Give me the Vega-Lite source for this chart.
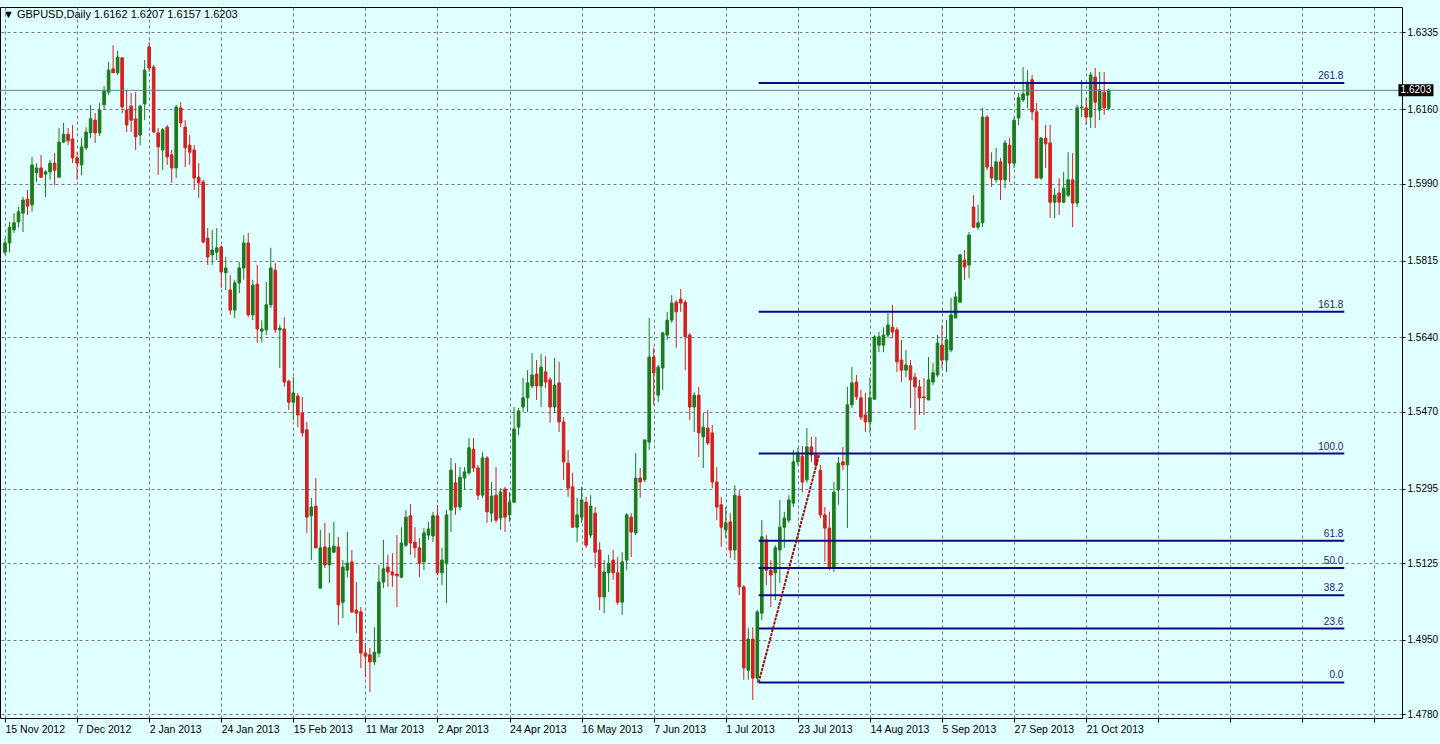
{
"$schema": "https://vega.github.io/schema/vega-lite/v6.json",
"width": 1402, "height": 711,
"autosize": {"type": "none"},
"padding": {"left": 0, "top": 7, "right": 38, "bottom": 26},
"background": "#E0FFFF",
"title": {"text": "▼  GBPUSD,Daily  1.6162 1.6207 1.6157 1.6203", "anchor": "start", "frame": "group", "orient": "top", "offset": -22, "baseline": "alphabetic", "font": "Liberation Sans", "fontSize": 11, "fontWeight": "normal", "color": "#000000", "dx": 3},
"config": {"view": {"stroke": "#000000", "strokeWidth": 1}},
"datasets": {
"candles": [
{"i":0,"o":1.5834,"h":1.5866,"l":1.5828,"c":1.5855},
{"i":1,"o":1.5855,"h":1.5903,"l":1.5834,"c":1.5891},
{"i":2,"o":1.5885,"h":1.5923,"l":1.5878,"c":1.5901},
{"i":3,"o":1.5903,"h":1.5937,"l":1.5891,"c":1.5926},
{"i":4,"o":1.5923,"h":1.5960,"l":1.5880,"c":1.5953},
{"i":5,"o":1.5955,"h":1.5976,"l":1.5919,"c":1.5939},
{"i":6,"o":1.5942,"h":1.6051,"l":1.5926,"c":1.6033},
{"i":7,"o":1.6015,"h":1.6037,"l":1.5994,"c":1.6026},
{"i":8,"o":1.6026,"h":1.6056,"l":1.6003,"c":1.6005},
{"i":9,"o":1.6012,"h":1.6021,"l":1.5960,"c":1.6017},
{"i":10,"o":1.6017,"h":1.6044,"l":1.5999,"c":1.6037},
{"i":11,"o":1.6037,"h":1.6060,"l":1.5987,"c":1.6021},
{"i":12,"o":1.6005,"h":1.6117,"l":1.6005,"c":1.6085},
{"i":13,"o":1.6085,"h":1.6129,"l":1.6083,"c":1.6103},
{"i":14,"o":1.6103,"h":1.6117,"l":1.6078,"c":1.6088},
{"i":15,"o":1.6092,"h":1.6124,"l":1.6037,"c":1.6049},
{"i":16,"o":1.6049,"h":1.6062,"l":1.5999,"c":1.6037},
{"i":17,"o":1.6033,"h":1.6094,"l":1.6010,"c":1.6074},
{"i":18,"o":1.6072,"h":1.6119,"l":1.6067,"c":1.6108},
{"i":19,"o":1.6106,"h":1.6170,"l":1.6094,"c":1.6138},
{"i":20,"o":1.6135,"h":1.6151,"l":1.6083,"c":1.6106},
{"i":21,"o":1.6106,"h":1.6174,"l":1.6099,"c":1.6158},
{"i":22,"o":1.6170,"h":1.6213,"l":1.6158,"c":1.6202},
{"i":23,"o":1.6199,"h":1.6268,"l":1.6192,"c":1.6249},
{"i":24,"o":1.6252,"h":1.6306,"l":1.6243,"c":1.6243},
{"i":25,"o":1.6243,"h":1.6293,"l":1.6238,"c":1.6279},
{"i":26,"o":1.6277,"h":1.6279,"l":1.6151,"c":1.6165},
{"i":27,"o":1.6158,"h":1.6204,"l":1.6108,"c":1.6124},
{"i":28,"o":1.6167,"h":1.6197,"l":1.6108,"c":1.6135},
{"i":29,"o":1.6138,"h":1.6199,"l":1.6067,"c":1.6097},
{"i":30,"o":1.6101,"h":1.6170,"l":1.6078,"c":1.6167},
{"i":31,"o":1.6172,"h":1.6272,"l":1.6135,"c":1.6249},
{"i":32,"o":1.6302,"h":1.6313,"l":1.6245,"c":1.6254},
{"i":33,"o":1.6256,"h":1.6261,"l":1.6106,"c":1.6108},
{"i":34,"o":1.6106,"h":1.6117,"l":1.6010,"c":1.6074},
{"i":35,"o":1.6067,"h":1.6117,"l":1.6021,"c":1.6113},
{"i":36,"o":1.6119,"h":1.6124,"l":1.6033,"c":1.6051},
{"i":37,"o":1.6056,"h":1.6067,"l":1.5992,"c":1.6026},
{"i":38,"o":1.6026,"h":1.6170,"l":1.6003,"c":1.6165},
{"i":39,"o":1.6163,"h":1.6176,"l":1.6119,"c":1.6129},
{"i":40,"o":1.6119,"h":1.6135,"l":1.6028,"c":1.6072},
{"i":41,"o":1.6078,"h":1.6101,"l":1.6033,"c":1.6062},
{"i":42,"o":1.6067,"h":1.6078,"l":1.5976,"c":1.6003},
{"i":43,"o":1.6005,"h":1.6037,"l":1.5958,"c":1.5992},
{"i":44,"o":1.5994,"h":1.5999,"l":1.5855,"c":1.5857},
{"i":45,"o":1.5866,"h":1.5889,"l":1.5805,"c":1.5823},
{"i":46,"o":1.5828,"h":1.5885,"l":1.5805,"c":1.5839},
{"i":47,"o":1.5834,"h":1.5889,"l":1.5816,"c":1.5844},
{"i":48,"o":1.5846,"h":1.5850,"l":1.5752,"c":1.5789},
{"i":49,"o":1.5787,"h":1.5823,"l":1.5748,"c":1.5798},
{"i":50,"o":1.5748,"h":1.5782,"l":1.5691,"c":1.5702},
{"i":51,"o":1.5702,"h":1.5771,"l":1.5684,"c":1.5764},
{"i":52,"o":1.5764,"h":1.5812,"l":1.5741,"c":1.5798},
{"i":53,"o":1.5798,"h":1.5873,"l":1.5771,"c":1.5855},
{"i":54,"o":1.5855,"h":1.5878,"l":1.5686,"c":1.5691},
{"i":55,"o":1.5691,"h":1.5771,"l":1.5679,"c":1.5759},
{"i":56,"o":1.5761,"h":1.5805,"l":1.5627,"c":1.5659},
{"i":57,"o":1.5654,"h":1.5679,"l":1.5629,"c":1.5659},
{"i":58,"o":1.5657,"h":1.5766,"l":1.5645,"c":1.5714},
{"i":59,"o":1.5714,"h":1.5844,"l":1.5707,"c":1.5798},
{"i":60,"o":1.5793,"h":1.5809,"l":1.5650,"c":1.5657},
{"i":61,"o":1.5657,"h":1.5668,"l":1.5570,"c":1.5661},
{"i":62,"o":1.5659,"h":1.5686,"l":1.5527,"c":1.5538},
{"i":63,"o":1.5540,"h":1.5543,"l":1.5474,"c":1.5492},
{"i":64,"o":1.5492,"h":1.5549,"l":1.5451,"c":1.5513},
{"i":65,"o":1.5506,"h":1.5513,"l":1.5435,"c":1.5463},
{"i":66,"o":1.5467,"h":1.5504,"l":1.5413,"c":1.5422},
{"i":67,"o":1.5429,"h":1.5447,"l":1.5194,"c":1.5230},
{"i":68,"o":1.5233,"h":1.5274,"l":1.5132,"c":1.5253},
{"i":69,"o":1.5255,"h":1.5319,"l":1.5160,"c":1.5160},
{"i":70,"o":1.5068,"h":1.5201,"l":1.5068,"c":1.5160},
{"i":71,"o":1.5162,"h":1.5217,"l":1.5114,"c":1.5121},
{"i":72,"o":1.5121,"h":1.5194,"l":1.5080,"c":1.5160},
{"i":73,"o":1.5150,"h":1.5219,"l":1.5148,"c":1.5164},
{"i":74,"o":1.5162,"h":1.5185,"l":1.4984,"c":1.5030},
{"i":75,"o":1.5036,"h":1.5132,"l":1.5000,"c":1.5116},
{"i":76,"o":1.5109,"h":1.5196,"l":1.5093,"c":1.5125},
{"i":77,"o":1.5128,"h":1.5155,"l":1.5011,"c":1.5014},
{"i":78,"o":1.5018,"h":1.5082,"l":1.4966,"c":1.5011},
{"i":79,"o":1.5014,"h":1.5025,"l":1.4886,"c":1.4920},
{"i":80,"o":1.4920,"h":1.4943,"l":1.4865,"c":1.4913},
{"i":81,"o":1.4916,"h":1.4932,"l":1.4831,"c":1.4900},
{"i":82,"o":1.4900,"h":1.4979,"l":1.4893,"c":1.4922},
{"i":83,"o":1.4920,"h":1.5121,"l":1.4911,"c":1.5082},
{"i":84,"o":1.5082,"h":1.5178,"l":1.5068,"c":1.5112},
{"i":85,"o":1.5116,"h":1.5144,"l":1.5071,"c":1.5105},
{"i":86,"o":1.5105,"h":1.5148,"l":1.5071,"c":1.5098},
{"i":87,"o":1.5100,"h":1.5189,"l":1.5025,"c":1.5096},
{"i":88,"o":1.5093,"h":1.5207,"l":1.5091,"c":1.5171},
{"i":89,"o":1.5166,"h":1.5246,"l":1.5162,"c":1.5230},
{"i":90,"o":1.5233,"h":1.5260,"l":1.5144,"c":1.5171},
{"i":91,"o":1.5173,"h":1.5207,"l":1.5137,"c":1.5160},
{"i":92,"o":1.5160,"h":1.5182,"l":1.5093,"c":1.5125},
{"i":93,"o":1.5128,"h":1.5205,"l":1.5109,"c":1.5194},
{"i":94,"o":1.5189,"h":1.5219,"l":1.5178,"c":1.5203},
{"i":95,"o":1.5187,"h":1.5242,"l":1.5173,"c":1.5233},
{"i":96,"o":1.5233,"h":1.5258,"l":1.5098,"c":1.5103},
{"i":97,"o":1.5103,"h":1.5160,"l":1.5075,"c":1.5132},
{"i":98,"o":1.5125,"h":1.5246,"l":1.5034,"c":1.5235},
{"i":99,"o":1.5246,"h":1.5365,"l":1.5196,"c":1.5337},
{"i":100,"o":1.5308,"h":1.5353,"l":1.5235,"c":1.5253},
{"i":101,"o":1.5253,"h":1.5344,"l":1.5246,"c":1.5321},
{"i":102,"o":1.5319,"h":1.5344,"l":1.5292,"c":1.5333},
{"i":103,"o":1.5331,"h":1.5410,"l":1.5326,"c":1.5388},
{"i":104,"o":1.5385,"h":1.5410,"l":1.5333,"c":1.5342},
{"i":105,"o":1.5342,"h":1.5349,"l":1.5269,"c":1.5280},
{"i":106,"o":1.5280,"h":1.5378,"l":1.5274,"c":1.5365},
{"i":107,"o":1.5365,"h":1.5369,"l":1.5217,"c":1.5242},
{"i":108,"o":1.5239,"h":1.5310,"l":1.5219,"c":1.5278},
{"i":109,"o":1.5280,"h":1.5344,"l":1.5217,"c":1.5223},
{"i":110,"o":1.5228,"h":1.5296,"l":1.5201,"c":1.5287},
{"i":111,"o":1.5294,"h":1.5299,"l":1.5196,"c":1.5230},
{"i":112,"o":1.5235,"h":1.5287,"l":1.5219,"c":1.5264},
{"i":113,"o":1.5264,"h":1.5481,"l":1.5262,"c":1.5431},
{"i":114,"o":1.5435,"h":1.5479,"l":1.5417,"c":1.5472},
{"i":115,"o":1.5481,"h":1.5547,"l":1.5470,"c":1.5502},
{"i":116,"o":1.5502,"h":1.5565,"l":1.5470,"c":1.5536},
{"i":117,"o":1.5529,"h":1.5604,"l":1.5524,"c":1.5554},
{"i":118,"o":1.5556,"h":1.5588,"l":1.5497,"c":1.5529},
{"i":119,"o":1.5529,"h":1.5602,"l":1.5481,"c":1.5572},
{"i":120,"o":1.5561,"h":1.5597,"l":1.5524,"c":1.5538},
{"i":121,"o":1.5543,"h":1.5549,"l":1.5445,"c":1.5481},
{"i":122,"o":1.5481,"h":1.5593,"l":1.5467,"c":1.5531},
{"i":123,"o":1.5536,"h":1.5584,"l":1.5424,"c":1.5447},
{"i":124,"o":1.5447,"h":1.5458,"l":1.5315,"c":1.5356},
{"i":125,"o":1.5353,"h":1.5383,"l":1.5276,"c":1.5296},
{"i":126,"o":1.5299,"h":1.5331,"l":1.5205,"c":1.5207},
{"i":127,"o":1.5207,"h":1.5274,"l":1.5173,"c":1.5235},
{"i":128,"o":1.5230,"h":1.5299,"l":1.5217,"c":1.5269},
{"i":129,"o":1.5264,"h":1.5276,"l":1.5160,"c":1.5166},
{"i":130,"o":1.5189,"h":1.5280,"l":1.5182,"c":1.5255},
{"i":131,"o":1.5239,"h":1.5253,"l":1.5114,"c":1.5150},
{"i":132,"o":1.5155,"h":1.5173,"l":1.5018,"c":1.5048},
{"i":133,"o":1.5048,"h":1.5132,"l":1.5011,"c":1.5105},
{"i":134,"o":1.5103,"h":1.5144,"l":1.5059,"c":1.5125},
{"i":135,"o":1.5132,"h":1.5155,"l":1.5087,"c":1.5103},
{"i":136,"o":1.5103,"h":1.5139,"l":1.5030,"c":1.5036},
{"i":137,"o":1.5036,"h":1.5150,"l":1.5007,"c":1.5128},
{"i":138,"o":1.5132,"h":1.5239,"l":1.5109,"c":1.5235},
{"i":139,"o":1.5230,"h":1.5239,"l":1.5139,"c":1.5196},
{"i":140,"o":1.5194,"h":1.5376,"l":1.5189,"c":1.5319},
{"i":141,"o":1.5319,"h":1.5342,"l":1.5274,"c":1.5310},
{"i":142,"o":1.5315,"h":1.5406,"l":1.5310,"c":1.5406},
{"i":143,"o":1.5401,"h":1.5684,"l":1.5383,"c":1.5595},
{"i":144,"o":1.5595,"h":1.5616,"l":1.5486,"c":1.5559},
{"i":145,"o":1.5508,"h":1.5577,"l":1.5492,"c":1.5572},
{"i":146,"o":1.5570,"h":1.5652,"l":1.5520,"c":1.5650},
{"i":147,"o":1.5645,"h":1.5698,"l":1.5634,"c":1.5679},
{"i":148,"o":1.5679,"h":1.5736,"l":1.5673,"c":1.5718},
{"i":149,"o":1.5720,"h":1.5725,"l":1.5616,"c":1.5698},
{"i":150,"o":1.5727,"h":1.5750,"l":1.5698,"c":1.5718},
{"i":151,"o":1.5720,"h":1.5725,"l":1.5565,"c":1.5641},
{"i":152,"o":1.5645,"h":1.5650,"l":1.5451,"c":1.5481},
{"i":153,"o":1.5481,"h":1.5515,"l":1.5424,"c":1.5508},
{"i":154,"o":1.5508,"h":1.5527,"l":1.5367,"c":1.5422},
{"i":155,"o":1.5413,"h":1.5467,"l":1.5342,"c":1.5435},
{"i":156,"o":1.5433,"h":1.5474,"l":1.5394,"c":1.5399},
{"i":157,"o":1.5422,"h":1.5440,"l":1.5296,"c":1.5310},
{"i":158,"o":1.5310,"h":1.5344,"l":1.5223,"c":1.5253},
{"i":159,"o":1.5258,"h":1.5276,"l":1.5162,"c":1.5207},
{"i":160,"o":1.5201,"h":1.5253,"l":1.5182,"c":1.5217},
{"i":161,"o":1.5219,"h":1.5239,"l":1.5137,"c":1.5155},
{"i":162,"o":1.5155,"h":1.5303,"l":1.5132,"c":1.5280},
{"i":163,"o":1.5278,"h":1.5292,"l":1.5052,"c":1.5071},
{"i":164,"o":1.5071,"h":1.5075,"l":1.4859,"c":1.4886},
{"i":165,"o":1.4881,"h":1.4977,"l":1.4859,"c":1.4952},
{"i":166,"o":1.4952,"h":1.4979,"l":1.4813,"c":1.4863},
{"i":167,"o":1.4863,"h":1.5018,"l":1.4852,"c":1.5014},
{"i":168,"o":1.5011,"h":1.5223,"l":1.4995,"c":1.5185},
{"i":169,"o":1.5178,"h":1.5189,"l":1.5075,"c":1.5109},
{"i":170,"o":1.5109,"h":1.5132,"l":1.5025,"c":1.5098},
{"i":171,"o":1.5103,"h":1.5166,"l":1.5041,"c":1.5160},
{"i":172,"o":1.5155,"h":1.5269,"l":1.5080,"c":1.5207},
{"i":173,"o":1.5207,"h":1.5242,"l":1.5160,"c":1.5228},
{"i":174,"o":1.5223,"h":1.5280,"l":1.5217,"c":1.5269},
{"i":175,"o":1.5262,"h":1.5383,"l":1.5253,"c":1.5356},
{"i":176,"o":1.5356,"h":1.5388,"l":1.5349,"c":1.5372},
{"i":177,"o":1.5369,"h":1.5392,"l":1.5287,"c":1.5310},
{"i":178,"o":1.5315,"h":1.5433,"l":1.5308,"c":1.5390},
{"i":179,"o":1.5390,"h":1.5413,"l":1.5356,"c":1.5372},
{"i":180,"o":1.5372,"h":1.5413,"l":1.5344,"c":1.5349},
{"i":181,"o":1.5337,"h":1.5349,"l":1.5228,"c":1.5235},
{"i":182,"o":1.5235,"h":1.5253,"l":1.5128,"c":1.5205},
{"i":183,"o":1.5205,"h":1.5242,"l":1.5109,"c":1.5116},
{"i":184,"o":1.5116,"h":1.5310,"l":1.5105,"c":1.5287},
{"i":185,"o":1.5292,"h":1.5367,"l":1.5258,"c":1.5353},
{"i":186,"o":1.5356,"h":1.5390,"l":1.5337,"c":1.5349},
{"i":187,"o":1.5349,"h":1.5527,"l":1.5205,"c":1.5486},
{"i":188,"o":1.5486,"h":1.5572,"l":1.5479,"c":1.5536},
{"i":189,"o":1.5538,"h":1.5554,"l":1.5497,"c":1.5504},
{"i":190,"o":1.5502,"h":1.5520,"l":1.5451,"c":1.5458},
{"i":191,"o":1.5463,"h":1.5513,"l":1.5424,"c":1.5447},
{"i":192,"o":1.5447,"h":1.5549,"l":1.5422,"c":1.5502},
{"i":193,"o":1.5499,"h":1.5645,"l":1.5497,"c":1.5641},
{"i":194,"o":1.5622,"h":1.5652,"l":1.5606,"c":1.5641},
{"i":195,"o":1.5622,"h":1.5663,"l":1.5606,"c":1.5645},
{"i":196,"o":1.5645,"h":1.5695,"l":1.5638,"c":1.5668},
{"i":197,"o":1.5663,"h":1.5714,"l":1.5638,"c":1.5652},
{"i":198,"o":1.5657,"h":1.5663,"l":1.5561,"c":1.5584},
{"i":199,"o":1.5588,"h":1.5634,"l":1.5538,"c":1.5565},
{"i":200,"o":1.5565,"h":1.5611,"l":1.5549,"c":1.5577},
{"i":201,"o":1.5575,"h":1.5588,"l":1.5479,"c":1.5543},
{"i":202,"o":1.5549,"h":1.5559,"l":1.5429,"c":1.5527},
{"i":203,"o":1.5527,"h":1.5543,"l":1.5463,"c":1.5502},
{"i":204,"o":1.5504,"h":1.5547,"l":1.5463,"c":1.5502},
{"i":205,"o":1.5497,"h":1.5595,"l":1.5497,"c":1.5543},
{"i":206,"o":1.5538,"h":1.5581,"l":1.5531,"c":1.5559},
{"i":207,"o":1.5554,"h":1.5645,"l":1.5549,"c":1.5627},
{"i":208,"o":1.5622,"h":1.5668,"l":1.5570,"c":1.5588},
{"i":209,"o":1.5588,"h":1.5679,"l":1.5561,"c":1.5634},
{"i":210,"o":1.5611,"h":1.5730,"l":1.5606,"c":1.5691},
{"i":211,"o":1.5684,"h":1.5743,"l":1.5684,"c":1.5732},
{"i":212,"o":1.5720,"h":1.5828,"l":1.5718,"c":1.5828},
{"i":213,"o":1.5816,"h":1.5839,"l":1.5771,"c":1.5800},
{"i":214,"o":1.5805,"h":1.5880,"l":1.5775,"c":1.5873},
{"i":215,"o":1.5937,"h":1.5964,"l":1.5889,"c":1.5891},
{"i":216,"o":1.5891,"h":1.5942,"l":1.5885,"c":1.5901},
{"i":217,"o":1.5901,"h":1.6163,"l":1.5891,"c":1.6142},
{"i":218,"o":1.6142,"h":1.6147,"l":1.6021,"c":1.6028},
{"i":219,"o":1.6028,"h":1.6062,"l":1.5983,"c":1.6003},
{"i":220,"o":1.5999,"h":1.6072,"l":1.5992,"c":1.6040},
{"i":221,"o":1.6040,"h":1.6049,"l":1.5953,"c":1.5999},
{"i":222,"o":1.5999,"h":1.6090,"l":1.5980,"c":1.6083},
{"i":223,"o":1.6078,"h":1.6094,"l":1.5994,"c":1.6037},
{"i":224,"o":1.6037,"h":1.6142,"l":1.6026,"c":1.6135},
{"i":225,"o":1.6140,"h":1.6197,"l":1.6124,"c":1.6186},
{"i":226,"o":1.6181,"h":1.6256,"l":1.6176,"c":1.6195},
{"i":227,"o":1.6192,"h":1.6249,"l":1.6163,"c":1.6222},
{"i":228,"o":1.6227,"h":1.6238,"l":1.6135,"c":1.6154},
{"i":229,"o":1.6154,"h":1.6174,"l":1.6003,"c":1.6003},
{"i":230,"o":1.6003,"h":1.6097,"l":1.5999,"c":1.6094},
{"i":231,"o":1.6094,"h":1.6124,"l":1.6026,"c":1.6081},
{"i":232,"o":1.6083,"h":1.6124,"l":1.5912,"c":1.5948},
{"i":233,"o":1.5948,"h":1.5980,"l":1.5912,"c":1.5964},
{"i":234,"o":1.5969,"h":1.6003,"l":1.5919,"c":1.5948},
{"i":235,"o":1.5948,"h":1.6017,"l":1.5946,"c":1.5980},
{"i":236,"o":1.5964,"h":1.6062,"l":1.5960,"c":1.5999},
{"i":237,"o":1.5999,"h":1.6060,"l":1.5891,"c":1.5946},
{"i":238,"o":1.5946,"h":1.6170,"l":1.5937,"c":1.6163},
{"i":239,"o":1.6163,"h":1.6227,"l":1.6142,"c":1.6165},
{"i":240,"o":1.6163,"h":1.6186,"l":1.6124,"c":1.6142},
{"i":241,"o":1.6142,"h":1.6245,"l":1.6117,"c":1.6238},
{"i":242,"o":1.6233,"h":1.6254,"l":1.6117,"c":1.6176},
{"i":243,"o":1.6158,"h":1.6245,"l":1.6135,"c":1.6204},
{"i":244,"o":1.6199,"h":1.6245,"l":1.6147,"c":1.6163},
{"i":245,"o":1.6162,"h":1.6207,"l":1.6157,"c":1.6203}
],
"fib": [
{"level":"0.0","price":1.4853,"t1":167.3,"t2":297.3},
{"level":"23.6","price":1.4976,"t1":167.3,"t2":297.3},
{"level":"38.2","price":1.5052,"t1":167.3,"t2":297.3},
{"level":"50.0","price":1.5114,"t1":167.3,"t2":297.3},
{"level":"61.8","price":1.5176,"t1":167.3,"t2":297.3},
{"level":"100.0","price":1.5375,"t1":167.3,"t2":297.3},
{"level":"161.8","price":1.5698,"t1":167.3,"t2":297.3},
{"level":"261.8","price":1.6220,"t1":167.3,"t2":297.3}
],
"trend": [{"t1":167.3,"p1":1.4853,"t2":180.8,"p2":1.5375}],
"last": [{"price":1.6203,"label":"1.6203"}]
},
"layer": [
{"data":{"name":"candles"},
 "mark":{"type":"rule","strokeWidth":1,"clip":true},
 "encoding":{
  "x":{"field":"i","type":"quantitative","scale":{"domain":[0,309],"nice":false,"zero":false},
   "axis":{"orient":"bottom","title":null,"values":[0,8,16,24,32,40,48,56,64,72,80,88,96,104,112,120,128,136,144,152,160,168,176,184,192,200,208,216,224,232,240,248,256,264,272,280,288,296,304],
    "grid":true,"gridDash":[3,3],"gridColor":"#6B7B8C","gridWidth":1,"domain":false,"ticks":true,"tickSize":4,"tickColor":"#000000",
    "labelExpr":"datum.value % 16 == 0 && datum.value <= 240 ? ['15 Nov 2012','7 Dec 2012','2 Jan 2013','24 Jan 2013','15 Feb 2013','11 Mar 2013','2 Apr 2013','24 Apr 2013','16 May 2013','7 Jun 2013','1 Jul 2013','23 Jul 2013','14 Aug 2013','5 Sep 2013','27 Sep 2013','21 Oct 2013'][datum.value / 16] : ''",
    "labelAlign":"left","labelPadding":2,"labelFont":"Liberation Sans","labelFontSize":10.5,"labelColor":"#000000","labelOverlap":false,"labelFlush":false,"labelBound":false}},
  "y":{"field":"l","type":"quantitative","scale":{"domain":[1.4772,1.6393],"nice":false,"zero":false},
   "axis":{"orient":"right","title":null,"values":[1.478,1.4865,1.495,1.5035,1.5125,1.521,1.5295,1.5385,1.547,1.5555,1.564,1.573,1.5815,1.59,1.599,1.6075,1.616,1.6245,1.6335],
    "format":".4f","grid":true,"gridDash":[3,3],"gridColor":"#6B7B8C","gridWidth":1,"domain":false,"ticks":true,"tickSize":3,"tickColor":"#000000",
    "labelPadding":2,"labelFont":"Liberation Sans","labelFontSize":10,"labelColor":"#000000","labelOverlap":false,"labelFlush":false,"labelBound":false}},
  "y2":{"field":"h"},
  "color":{"condition":{"test":"datum.c >= datum.o","value":"#1C7A1C"},"value":"#D42020"}
 }},
{"data":{"name":"candles"},
 "mark":{"type":"bar","size":2.6,"strokeWidth":1,"clip":true},
 "encoding":{
  "x":{"field":"i","type":"quantitative"},
  "y":{"field":"o","type":"quantitative"},
  "y2":{"field":"c"},
  "fill":{"condition":{"test":"datum.c >= datum.o","value":"#1C7A1C"},"value":"#D42020"},
  "stroke":{"condition":{"test":"datum.c >= datum.o","value":"#1C7A1C"},"value":"#D42020"}
 }},
{"data":{"name":"last"},
 "mark":{"type":"rule","strokeWidth":1,"color":"#6A7C8C"},
 "encoding":{"y":{"field":"price","type":"quantitative"}}},
{"data":{"name":"fib"},
 "mark":{"type":"rule","strokeWidth":2,"color":"#0A0A84"},
 "encoding":{"x":{"field":"t1","type":"quantitative"},"x2":{"field":"t2"},"y":{"field":"price","type":"quantitative"}}},
{"data":{"name":"fib"},
 "mark":{"type":"text","align":"right","baseline":"bottom","dy":-2,"dx":-1,"font":"Liberation Sans","fontSize":10,"color":"#22226E"},
 "encoding":{"x":{"field":"t2","type":"quantitative"},"y":{"field":"price","type":"quantitative"},"text":{"field":"level"}}},
{"data":{"name":"trend"},
 "mark":{"type":"rule","strokeWidth":2,"color":"#9A1010","strokeDash":[3,1]},
 "encoding":{"x":{"field":"t1","type":"quantitative"},"x2":{"field":"t2"},"y":{"field":"p1","type":"quantitative"},"y2":{"field":"p2"}}},
{"data":{"name":"last"},
 "mark":{"type":"point","shape":"M-1,-0.343L1,-0.343L1,0.343L-1,0.343Z","size":1225,"filled":true,"color":"#000000","opacity":1},
 "encoding":{"x":{"datum":313.2,"type":"quantitative"},"y":{"field":"price","type":"quantitative"}}},
{"data":{"name":"last"},
 "mark":{"type":"text","align":"center","baseline":"middle","font":"Liberation Sans","fontSize":10,"color":"#FFFFFF"},
 "encoding":{"x":{"datum":313.2,"type":"quantitative"},"y":{"field":"price","type":"quantitative"},"text":{"field":"label"}}}
]
}
